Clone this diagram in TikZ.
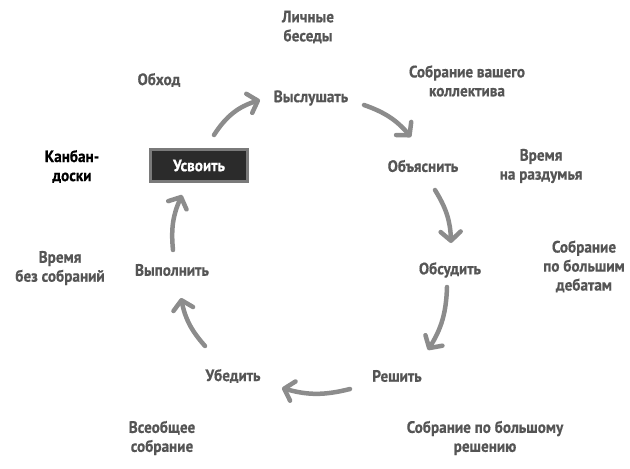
\documentclass[tikz,border=0pt]{standalone}
\usepackage{fontspec}
\setmainfont{PT Sans}[FakeStretch=0.92,BoldFeatures={FakeBold=0.6}]
\usetikzlibrary{arrows.meta}
\definecolor{txt}{HTML}{555555}
\definecolor{arr}{HTML}{8C8C8C}
\definecolor{boxfill}{HTML}{2B2B2B}
\definecolor{boxline}{HTML}{7A7A7A}
\tikzset{
  lbl/.style={font=\bfseries\fontsize{16.5}{19}\selectfont, text=txt, align=center, inner sep=0pt},
  stage/.style={font=\bfseries\fontsize{16.5}{19}\selectfont, text=txt, align=center, inner sep=0pt},
  cyc/.style={draw=arr, line width=4.5pt, line cap=round,
    -{Straight Barb[length=9pt,width=20pt,line width=4.5pt,round]}},
}
\begin{document}
\begin{tikzpicture}[x=1pt,y=-1pt]
\useasboundingbox (0,0) rectangle (630,469);
% stages
\node[stage] (vys) at (311,98) {Выслушать};
\node[stage] (obya) at (423,166) {Объяснить};
\node[stage] (obs) at (450,270) {Обсудить};
\node[stage] (resh) at (397,376) {Решить};
\node[stage] (ubed) at (233,376) {Убедить};
\node[stage] (vyp) at (172,270) {Выполнить};
\node[stage, fill=boxfill, draw=boxline, line width=3pt, text=white,
  minimum width=97pt, minimum height=32pt] (usv) at (199,165.5) {Усвоить};
% labels
\node[lbl] (lich) at (308,27) {Личные\\беседы};
\node[lbl] (obh) at (159,80) {Обход};
\node[lbl] (sobk) at (467,81) {Собрание вашего\\коллектива};
\node[lbl, text=black] (kanb) at (72,166.5) {Канбан-\\доски};
\node[lbl] (vrr) at (541,166) {Время\\на раздумья};
\node[lbl] (sobd) at (584,266.5) {Собрание\\по большим\\дебатам};
\node[lbl] (vrb) at (60,268) {Время\\без собраний};
\node[lbl] (vse) at (162,438) {Всеобщее\\собрание};
\node[lbl] (sobr) at (485,438) {Собрание по большому\\решению};
% arrow end points
\coordinate (a1s) at (214,135); \coordinate (a1e) at (260,100);
\coordinate (a2s) at (364,105); \coordinate (a2e) at (411,137);
\coordinate (a3s) at (435,190); \coordinate (a3e) at (451,243);
\coordinate (a4s) at (447,287); \coordinate (a4e) at (428,350);
\coordinate (a5s) at (350,389); \coordinate (a5e) at (282,388);
\coordinate (a6s) at (205,346); \coordinate (a6e) at (181,298);
\coordinate (a7s) at (173,250); \coordinate (a7e) at (182,195);
\draw[cyc] (a1s) to[bend left=20] (a1e);
\draw[cyc] (a2s) to[bend left=15] (a2e);
\draw[cyc] (a3s) to[bend left=15] (a3e);
\draw[cyc] (a4s) to[bend left=15] (a4e);
\draw[cyc] (a5s) to[bend left=15] (a5e);
\draw[cyc] (a6s) to[bend left=15] (a6e);
\draw[cyc] (a7s) to[bend left=15] (a7e);
\end{tikzpicture}
\end{document}
